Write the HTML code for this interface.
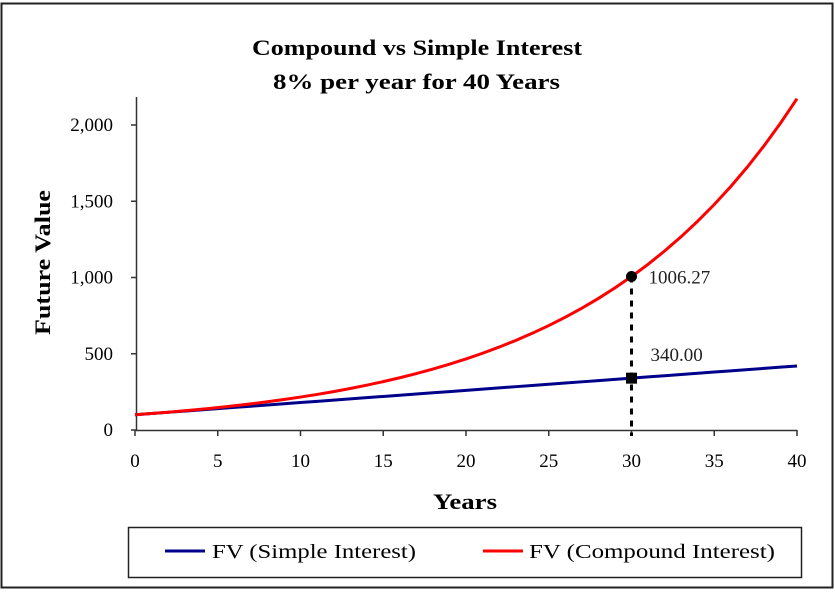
<!DOCTYPE html>
<html><head><meta charset="utf-8"><style>
body{margin:0;background:#fff;}
svg text{font-family:"Liberation Serif",serif;}
</style></head><body>
<svg width="835" height="589" xmlns="http://www.w3.org/2000/svg">
<rect x="1.5" y="3.5" width="831" height="584" fill="#fff" stroke="#222" stroke-width="2"/>
<text x="252" y="55" font-size="22" font-weight="bold" textLength="330" lengthAdjust="spacingAndGlyphs">Compound vs Simple Interest</text>
<text x="273" y="89" font-size="22" font-weight="bold" textLength="287" lengthAdjust="spacingAndGlyphs">8% per year for 40 Years</text>
<text transform="translate(50,190) rotate(-90)" text-anchor="end" font-size="22" font-weight="bold" textLength="145" lengthAdjust="spacingAndGlyphs" x="-0">Future Value</text>
<text x="433" y="509" font-size="22" font-weight="bold" textLength="64" lengthAdjust="spacingAndGlyphs">Years</text>
<g id="axes"></g>
<g id="marks"></g>
<rect x="128.5" y="527.5" width="673" height="50" fill="#fff" stroke="#222" stroke-width="1.5"/>
<line x1="165" y1="551" x2="205" y2="551" stroke="#00008b" stroke-width="3"/>
<text x="212" y="558" font-size="20" textLength="204" lengthAdjust="spacingAndGlyphs">FV (Simple Interest)</text>
<line x1="483" y1="551" x2="523" y2="551" stroke="#ff0000" stroke-width="3"/>
<text x="529" y="558" font-size="20" textLength="246" lengthAdjust="spacingAndGlyphs">FV (Compound Interest)</text>
</svg>
<script>
const years=[0,1,2,3,4,5,6,7,8,9,10,11,12,13,14,15,16,17,18,19,20,21,22,23,24,25,26,27,28,29,30,31,32,33,34,35,36,37,38,39,40];
const simpleFV=[100,108,116,124,132,140,148,156,164,172,180,188,196,204,212,220,228,236,244,252,260,268,276,284,292,300,308,316,324,332,340,348,356,364,372,380,388,396,404,412,420];
const compoundFV=[100,108,116.64,125.97,136.05,146.93,158.69,171.38,185.09,199.9,215.89,233.16,251.82,271.96,293.72,317.22,342.59,370,399.6,431.57,466.1,503.38,543.65,587.15,634.12,684.85,739.64,798.81,862.71,931.73,1006.27,1086.77,1173.71,1267.61,1369.02,1478.55,1596.83,1724.58,1862.54,2011.55,2172.45];
const xTicks=[0,5,10,15,20,25,30,35,40];
const yTicks=[0,500,1000,1500,2000];
const yTickLabels=["0","500","1,000","1,500","2,000"];
const highlightYear=30;
const highlightSimple=340.00;
const highlightCompound=1006.27;

const NS="http://www.w3.org/2000/svg";
const X=v=>135+v*(797-135)/40;
const Y=v=>430-v*0.1525;
function mk(tag,attrs,parent,text){const e=document.createElementNS(NS,tag);for(const k in attrs)e.setAttribute(k,attrs[k]);if(text!==undefined)e.textContent=text;parent.appendChild(e);return e;}
const axes=document.getElementById('axes'),marks=document.getElementById('marks');
let e;
e=mk('line',{x1:136.5,y1:97,x2:136.5,y2:431,stroke:'#333','stroke-width':1.5},axes);


e=mk('line',{x1:136,y1:430.5,x2:797,y2:430.5,stroke:'#333','stroke-width':1.5},axes);


yTicks.forEach((t,i)=>{
  e=mk('line',{x1:131,y1:Y(t),x2:136,y2:Y(t),stroke:'#333','stroke-width':1.5},axes);
  
  
  e=mk('text',{x:113,y:Y(t)+6,'text-anchor':'end','font-size':19},axes,yTickLabels[i]);
  
  
});
xTicks.forEach(t=>{
  e=mk('line',{x1:X(t),y1:430,x2:X(t),y2:436,stroke:'#333','stroke-width':1.5},axes);
  
  
  e=mk('text',{x:X(t),y:467,'text-anchor':'middle','font-size':19},axes,String(t));
  
  
});
e=mk('polyline',{points:years.map((y,i)=>X(y)+','+Y(simpleFV[i])).join(' '),fill:'none',stroke:'#00008b','stroke-width':3},marks);


e=mk('polyline',{points:years.map((y,i)=>X(y)+','+Y(compoundFV[i])).join(' '),fill:'none',stroke:'#ff0000','stroke-width':3},marks);


e=mk('line',{x1:X(highlightYear),y1:Y(highlightCompound),x2:X(highlightYear),y2:436,stroke:'#000','stroke-width':3,'stroke-dasharray':'6,6'},marks);


e=mk('circle',{cx:X(highlightYear),cy:Y(highlightCompound),r:5.5,fill:'#000'},marks);


e=mk('rect',{x:X(highlightYear)-5.5,y:Y(highlightSimple)-5.5,width:11,height:11,fill:'#000'},marks);


e=mk('text',{x:X(highlightYear)+17,y:Y(highlightCompound)+7,'font-size':19,fill:'#222'},marks,highlightCompound.toFixed(2));


e=mk('text',{x:X(highlightYear)+19,y:Y(highlightSimple)-17,'font-size':19,fill:'#222'},marks,highlightSimple.toFixed(2));


</script>
</body></html>
